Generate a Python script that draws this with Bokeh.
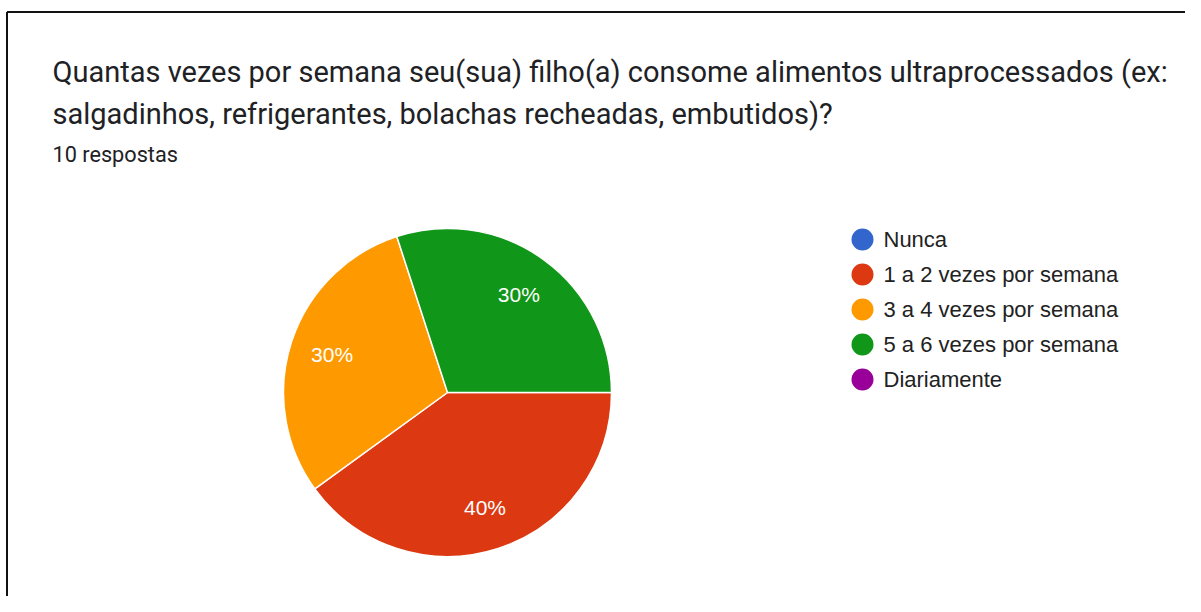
import math
from bokeh.plotting import figure
from bokeh.models import ColumnDataSource, Range1d
from bokeh.core.properties import value
from bokeh.embed import file_html
from bokeh.resources import INLINE

title_lines = [
    "Quantas vezes por semana seu(sua) filho(a) consome alimentos ultraprocessados (ex:",
    "salgadinhos, refrigerantes, bolachas recheadas, embutidos)?",
]
subtitle = "10 respostas"
categories = ["Nunca", "1 a 2 vezes por semana", "3 a 4 vezes por semana",
              "5 a 6 vezes por semana", "Diariamente"]
counts = [0, 4, 3, 3, 0]
colors = ["#3366cc", "#dc3912", "#ff9900", "#109618", "#990099"]

W, H = 1185, 596
p = figure(width=W, height=H, output_backend="svg", toolbar_location=None,
           x_range=Range1d(0, W), y_range=Range1d(0, H), min_border=0)
p.axis.visible = False
p.grid.visible = False
p.outline_line_color = None
p.background_fill_color = "white"
p.border_fill_color = "white"

def Y(py):
    return H - py
def X(px):
    return px

# frame border (left and top)
p.segment(x0=[6.5, 6.5], y0=[Y(11.5), Y(11.5)], x1=[6.5, W], y1=[0, Y(11.5)],
          line_color="#111111", line_width=2)

# titles
p.text(x=[X(52)], y=[Y(71)], text=[title_lines[0]], text_font=value("Roboto"),
       text_font_size="29px", text_color="#202124", text_baseline="middle")
p.text(x=[X(52)], y=[Y(113)], text=[title_lines[1]], text_font=value("Roboto"),
       text_font_size="29px", text_color="#202124", text_baseline="middle")
p.text(x=[X(52)], y=[Y(154)], text=[subtitle], text_font=value("Roboto"),
       text_font_size="21.7px", text_color="#202124", text_baseline="middle")

# pie (clockwise from 3 o'clock)
cx, cy, r = X(447), Y(392), 164
total = sum(counts)
starts, ends, lx, ly, lt, wc = [], [], [], [], [], []
cum = 0.0
for c, col in zip(counts, colors):
    if c == 0:
        continue
    a0 = -2 * math.pi * (cum + c) / total
    a1 = -2 * math.pi * cum / total
    starts.append(a0)
    ends.append(a1)
    wc.append(col)
    mid = (a0 + a1) / 2
    lx.append(cx + 0.74 * r * math.cos(mid))
    ly.append(cy + 0.74 * r * math.sin(mid))
    lt.append(f"{round(100 * c / total)}%")
    cum += c
src = ColumnDataSource(dict(start=starts, end=ends, color=wc))
p.wedge(x=cx, y=cy, radius=r, start_angle="start", end_angle="end",
        fill_color="color", line_color="white", line_width=1.5, source=src)
p.text(x=lx, y=ly, text=lt, text_font=value("Liberation Sans"), text_font_size="21px",
       text_color="white", text_align="center", text_baseline="middle")

# legend
ys = [Y(239 + 35 * i) for i in range(len(categories))]
p.scatter(x=[X(862)] * len(categories), y=ys, size=22, marker="circle",
          fill_color=colors, line_color=None)
p.text(x=[X(883)] * len(categories), y=ys, text=categories,
       text_font=value("Liberation Sans"), text_font_size="22px",
       text_color="#222222", text_baseline="middle")

open("out.html", "w").write(file_html(p, INLINE))
